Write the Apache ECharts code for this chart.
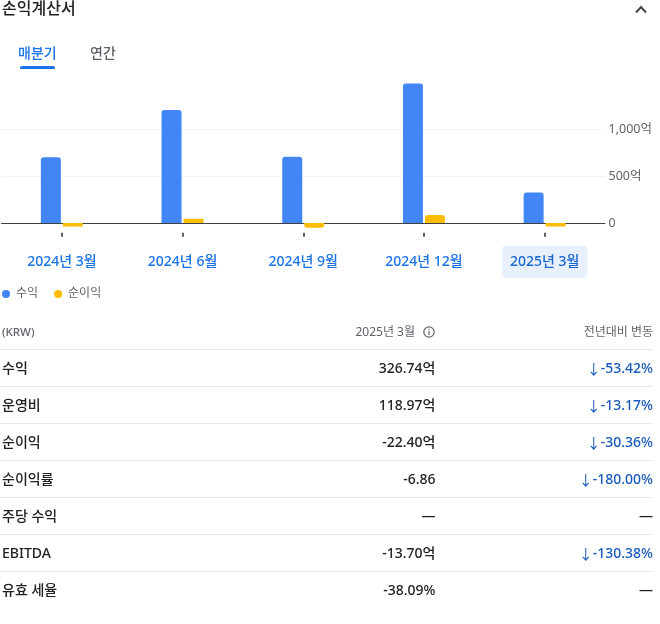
<!DOCTYPE html>
<html lang="ko"><head><meta charset="utf-8">
<style>html,body{margin:0;padding:0;background:#fff}#c{width:660px;height:624px}</style>
<script src="https://cdn.jsdelivr.net/npm/echarts@6/dist/echarts.min.js"></script>
</head><body><div id="c"></div>
<script>
const categories = ['2024년 3월','2024년 6월','2024년 9월','2024년 12월','2025년 3월'];
const revenue = [701.5, 1207, 707, 1490, 326.74];
const netIncome = [-17.2, 45, -50, 85, -22.4];
const seriesNames = ['수익','순이익'];
const yTicks = {'0':'0','500':'500억','1000':'1,000억'};
const tabs = ['매분기','연간'];
const rowLabels = ['수익','운영비','순이익','순이익률','주당 수익','EBITDA','유효 세율'];
const rowValues = ['326.74억','118.97억','-22.40억','-6.86','—','-13.70억','-38.09%'];
const rowChanges = ['-53.42%','-13.17%','-30.36%','-180.00%','—','-130.38%','—'];
const FONT = '"Noto Sans", "Noto Sans CJK KR", sans-serif';

const txt = (text,x,y,o={}) => ({type:'text',silent:true,style:Object.assign({text,x,y:y+1,fontFamily:FONT,fontSize:14,fill:'#202124',
  textAlign:'left',textVerticalAlign:'middle'},o)});
const g = [];
g.push(txt('손익계산서',2,8,{fontSize:16,fontWeight:500}));
g.push({type:'polyline',shape:{points:[[636,12.5],[641,7],[646,12.5]]},style:{stroke:'#444746',lineWidth:2,fill:null}});
g.push(txt(tabs[0],18,53,{fill:'#1a73e8',fontWeight:500}));
g.push(txt(tabs[1],90,53,{fill:'#5f6368',fontWeight:500}));
g.push({type:'rect',shape:{x:20,y:66,width:35,height:3,r:[2,2,0,0]},style:{fill:'#1a73e8'}});
g.push(txt('(KRW)',2,332,{fontSize:11.5,fill:'#5f6368',fontWeight:500}));
g.push(txt(categories[4],415,332,{fontSize:12,fill:'#5f6368',textAlign:'right'}));
g.push({type:'circle',shape:{cx:429,cy:332,r:5.2},style:{stroke:'#5f6368',lineWidth:1.2,fill:null}});
g.push({type:'line',shape:{x1:429,y1:331,x2:429,y2:335},style:{stroke:'#5f6368',lineWidth:1.2}});
g.push({type:'circle',shape:{cx:429,cy:329.3,r:0.7},style:{fill:'#5f6368'}});
g.push(txt('전년대비 변동',653,332,{fontSize:12,fill:'#5f6368',textAlign:'right'}));
rowLabels.forEach((l,i)=>{
  const top = 349.5 + 37*i, cy = top + 18.5;
  g.push({type:'line',shape:{x1:0,y1:top,x2:653,y2:top},style:{stroke:'#e8eaed',lineWidth:1}});
  g.push(txt(l,2,cy,{fontWeight:500}));
  g.push(txt(rowValues[i],435.5,cy,{textAlign:'right',fontWeight:500}));
  const neg = rowChanges[i] !== '—';
  if (neg) {
    g.push(txt('{a|↓}{b|'+rowChanges[i]+'}',653,cy,{textAlign:'right',
      rich:{a:{fontSize:14,fontFamily:'"Noto Sans CJK KR"',fill:'#185abc',padding:[0,0,0,0]},
            b:{fontSize:14,fontFamily:FONT,fontWeight:500,fill:'#185abc'}}}));
  } else {
    g.push(txt(rowChanges[i],653,cy,{textAlign:'right',fontWeight:500}));
  }
});

const rounded = v => { const r = Math.abs(v) >= 50 ? 3 : 0;
  return {value:v,itemStyle:{borderRadius:v>=0?[r,r,0,0]:[0,0,r,r]}}; };
const chart = echarts.init(document.getElementById('c'),null,{renderer:'canvas'});
chart.setOption({
  animation:false,
  textStyle:{fontFamily:FONT},
  grid:{left:1.5,width:603.5,top:82.45,height:187.4,containLabel:false},
  legend:{left:2,top:288,padding:0,itemWidth:8,itemHeight:8,itemGap:16,icon:'circle',
    data:seriesNames,textStyle:{color:'#5f6368',fontSize:12,fontFamily:FONT,padding:[0,0,0,1]}},
  xAxis:[
    {type:'category',data:categories,position:'bottom',
      axisLine:{onZero:true,lineStyle:{color:'#3c4043',width:1}},axisTick:{show:false},axisLabel:{show:false}},
    {type:'category',data:categories,position:'bottom',offset:-37,
      axisLine:{show:false},
      axisTick:{show:true,alignWithLabel:true,length:4,lineStyle:{color:'#5f6368',width:2}},
      axisLabel:{show:true,margin:13,interval:0,
        formatter:(v,i)=> i===categories.length-1 ? '{sel|'+v+'}' : '{n|'+v+'}',
        rich:{
          n:{color:'#1a73e8',fontSize:14,fontWeight:500,fontFamily:FONT,padding:[9,8]},
          sel:{color:'#1967d2',fontSize:14,fontWeight:500,fontFamily:FONT,padding:[9,8],backgroundColor:'#e8f0fe',borderRadius:4}
        }}}
  ],
  yAxis:{type:'value',position:'right',min:-500,max:1500,interval:500,
    axisLine:{show:false},axisTick:{show:false},
    splitLine:{show:true,showMinLine:false,showMaxLine:false,lineStyle:{color:'#f1f3f4',width:1}},
    axisLabel:{margin:3.5,padding:[2,0,0,0],showMinLabel:false,showMaxLabel:false,color:'#5f6368',fontSize:12.5,fontFamily:FONT,
      formatter:v=> yTicks[String(v)] ?? ''}},
  series:[
    {name:seriesNames[0],type:'bar',xAxisIndex:0,barWidth:20,barGap:'10%',itemStyle:{color:'#4285f4'},data:revenue.map(rounded)},
    {name:seriesNames[1],type:'bar',xAxisIndex:0,barWidth:20,barGap:'10%',barMinHeight:3.5,itemStyle:{color:'#fbbc04'},data:netIncome.map(rounded)}
  ],
  graphic:g
});
</script></body></html>
